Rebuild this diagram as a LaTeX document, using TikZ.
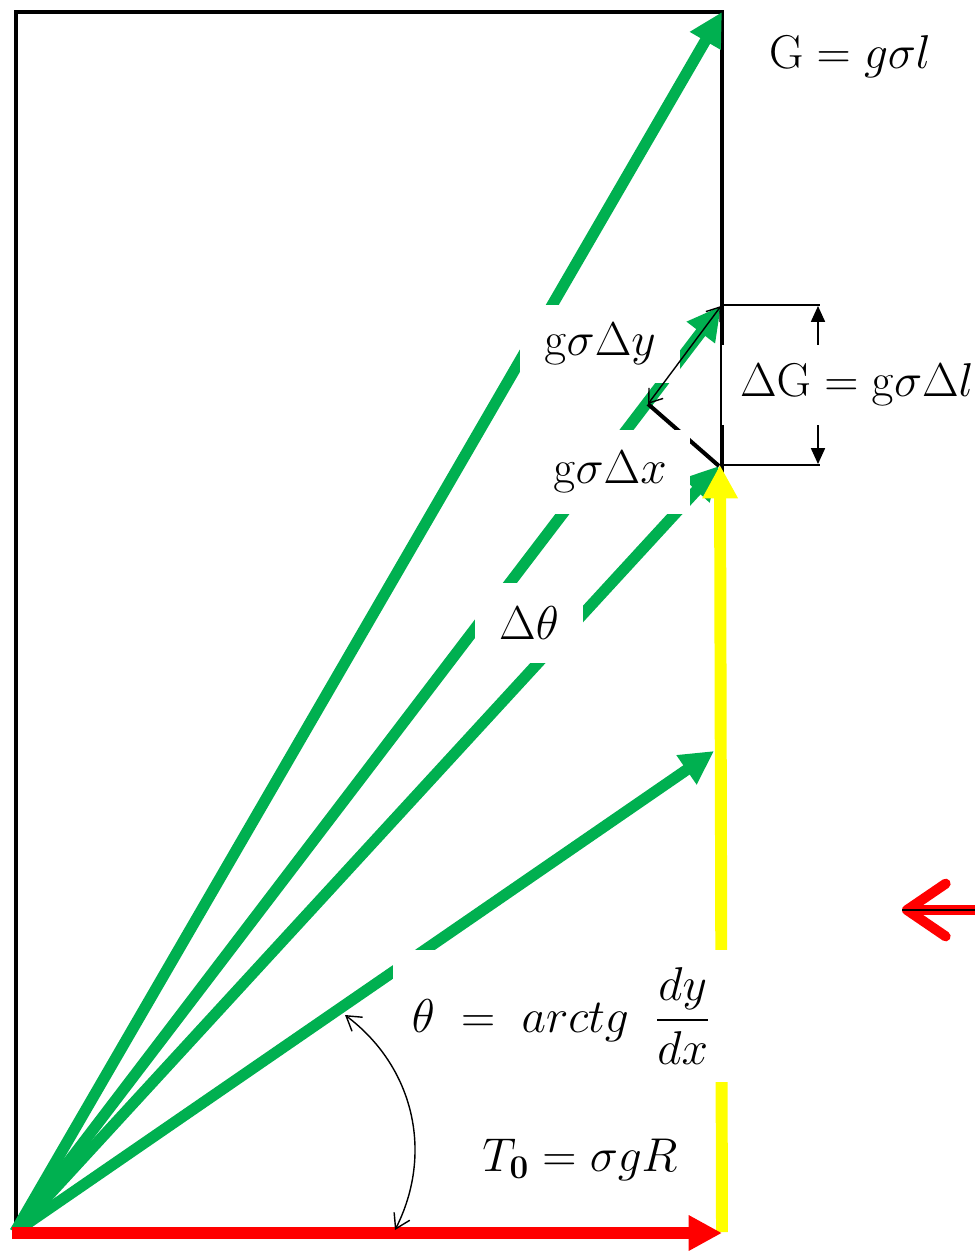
\documentclass[tikz,border=0pt]{standalone}
\usepackage{fix-cm}
\usepackage{amsmath,amssymb}
\usetikzlibrary{arrows.meta}
\definecolor{forcegreen}{HTML}{00B050}
\definecolor{weightyellow}{HTML}{FFFF00}
\definecolor{pullred}{HTML}{FF0000}

\begin{document}
\begin{tikzpicture}[
  x=0.02cm, y=-0.02cm,
  boxline/.style={draw=black, line width=2.3pt},
  vec/.style={-{Triangle[length=19pt, width=19pt]}, line width=6.4pt},
  tag/.style={fill=white, inner sep=0pt, font=\fontsize{27}{32}\selectfont},
  fine/.style={draw=black, line width=.8pt},
  dimarrow/.style={fine, -{Triangle[length=9pt, width=8pt]}},
  twoway/.style={fine, {Straight Barb[length=7pt, width=10pt]}-{Straight Barb[length=7pt, width=10pt]}}
]
  \useasboundingbox (0,0) rectangle (974,1251);
  % frame and end points
  \coordinate (O) at (15,1232);
  \coordinate (bl) at (16,1232);
  \coordinate (tl) at (16,12);
  \coordinate (tr) at (722,12);
  \coordinate (br) at (722,1232);
  \coordinate (dgtop) at (721,306);
  \coordinate (dgbot) at (719,466);
  \coordinate (mid) at (714,751);
  \coordinate (kink) at (648,404);
  \draw[boxline] (bl) -- (tl) -- (tr) -- (br);
  % forces
  \draw[vec, forcegreen] (O) -- (tr);
  \draw[vec, forcegreen] (O) -- (dgtop);
  \draw[vec, forcegreen] (O) -- (dgbot);
  \draw[vec, forcegreen] (O) -- (mid);
  \draw[vec, weightyellow, line width=6.8pt] (br) -- (720,465);
  \draw[vec, pullred, line width=7pt] (12,1233) -- (722,1233);
  \draw[boxline] (kink) -- (dgbot);
  % dimension of Delta G
  \coordinate (dimtop) at (820,305);
  \coordinate (dimbot) at (820,465);
  \draw[fine] (722,305) -- (dimtop);
  \draw[fine] (722,465) -- (dimbot);
  \draw[dimarrow] (818,345) -- (818,306);
  \draw[dimarrow] (818,425) -- (818,464);
  % labels
  \node[tag] (G) at (850,57) {$\mathrm{G}=g\sigma l$};
  \node[tag, minimum width=3.2cm, minimum height=1.56cm] (dy) at (600,344) {$\mathrm{g}\sigma\Delta y$};
  \node[tag, minimum width=3.2cm, minimum height=1.7cm] (dx) at (610,472) {$\mathrm{g}\sigma\Delta x$};
  \node[tag, minimum width=2.16cm, minimum height=1.6cm] (dth) at (529,623) {$\Delta\theta$};
  \node[tag, anchor=west, minimum width=5.38cm, minimum height=1.6cm] (dG) at (722,385) {$\Delta\mathrm{G}=\mathrm{g}\sigma\Delta l$};
  \node[tag, minimum width=6.74cm, minimum height=2.64cm] (theta) at (561,1016) {$\theta \;=\; arctg\;\;\dfrac{dy}{dx}$};
  \node[tag, inner sep=4pt] (T0) at (580,1160) {$T_{\mathbf{0}} = \sigma g R$};
  \draw[twoway] (kink) -- (dgtop);
  % angle
  \coordinate (a1) at (345,1015);
  \coordinate (a2) at (395,1230);
  \draw[fine, {Straight Barb[length=8pt, width=10pt]}-{Straight Barb[length=8pt, width=10pt]}] (a1) to[bend left=40] (a2);
  % pull on the right
  \coordinate (rtail) at (985,910);
  \coordinate (rtip) at (902,910);
  \draw[pullred, line width=5.7pt, -{Straight Barb[round, length=22pt, width=30pt]}] (rtail) -- (rtip);
  \draw[fine] (rtail) -- (rtip);
\end{tikzpicture}
\end{document}
